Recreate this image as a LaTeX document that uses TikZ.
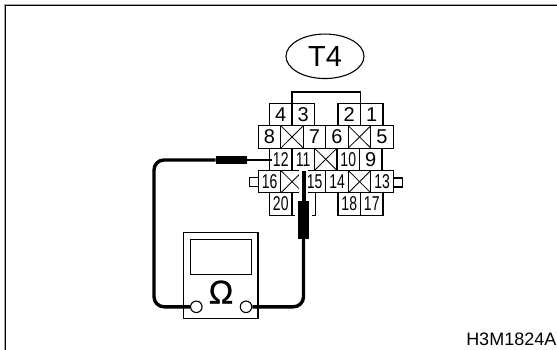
\documentclass[tikz,border=0pt]{standalone}
\usepackage{fontspec}
\setmainfont{Liberation Sans}
\newfontfamily\ohmfont[FakeBold=0.7]{Liberation Sans}
\usetikzlibrary{positioning, shapes.geometric}
\tikzset{
	pinbox/.style={draw, line width=1.1pt, minimum width=22.5pt, minimum height=22.4pt, inner sep=0pt, outer sep=0pt, font=\fontsize{20}{20}\selectfont},
	lead/.style={line width=3.4pt, black},
	probe/.style={draw=none, fill=black, inner sep=0pt, outer sep=0pt},
	jack/.style={draw, circle, line width=1.1pt, minimum size=11.5pt, inner sep=0pt, fill=white},
}
\newcommand{\narrow}[1]{\scalebox{0.7}[1]{#1}}
\begin{document}
\begin{tikzpicture}[x=1pt, y=-1pt]
	\useasboundingbox (0, 0) rectangle (557, 350);
	\draw[line width=1.2pt, black!35] (4.5, 350) -- (4.5, 4.5) -- (557, 4.5);
	\draw[line width=1.2pt] (5.5, 350) -- (5.5, 5.5) -- (557, 5.5);

	\node[draw, ellipse, line width=1.1pt, minimum width=78pt, minimum height=44.5pt, inner sep=0pt, font=\fontsize{29}{29}\selectfont] (t4) at (325, 56.3) {T4};

	% top row
	\node[pinbox, anchor=north west] (p4) at (269.5, 103.3) {4};
	\node[pinbox, right=0pt of p4] (p3) {3};
	\node[pinbox, anchor=north west] (p2) at (338, 103.3) {2};
	\node[pinbox, right=0pt of p2] (p1) {1};
	\draw[line width=1.1pt] (p3.north west) -- ++ (0, -11.3) -| (p1.north west);

	% second row
	\node[pinbox, anchor=north west] (p8) at (258.3, 125.7) {8};
	\node[pinbox, right=0pt of p8] (x1) {};
	\node[pinbox, right=0pt of x1] (p7) {7};
	\node[pinbox, right=0pt of p7] (p6) {6};
	\node[pinbox, right=0pt of p6] (x2) {};
	\node[pinbox, right=0pt of x2] (p5) {5};

	% third row
	\node[pinbox, anchor=north west] (p12) at (269.5, 148.1) {\narrow{12}};
	\node[pinbox, right=0pt of p12] (p11) {\narrow{11}};
	\node[pinbox, right=0pt of p11] (x3) {};
	\node[pinbox, right=0pt of x3] (p10) {\narrow{10}};
	\node[pinbox, right=0pt of p10] (p9) {9};

	% fourth row
	\node[pinbox, anchor=north west] (p16) at (258.3, 170.5) {\narrow{16}};
	\node[pinbox, right=0pt of p16] (x4) {};
	\node[pinbox, right=0pt of x4] (p15) {\narrow{15}};
	\node[pinbox, right=0pt of p15] (p14) {\narrow{14}};
	\node[pinbox, right=0pt of p14] (x5) {};
	\node[pinbox, right=0pt of x5] (p13) {\narrow{13}};

	% bottom row
	\node[pinbox, anchor=north west] (p20) at (269.5, 192.9) {\narrow{20}};
	\node[pinbox, anchor=north west] (p18) at (338, 192.9) {\narrow{18}};
	\node[pinbox, right=0pt of p18] (p17) {\narrow{17}};
	\draw[line width=1.1pt] (p20.south east) -- ++ (23.5, 0) -- ++ (0, -22.4);

	% crossed out cavities
	\foreach \c in {x1, x2, x3, x4, x5} {
		\draw[line width=0.8pt] (\c.north west) -- (\c.south east);
		\draw[line width=0.8pt] (\c.south west) -- (\c.north east);
	}

	% side tabs
	\draw[line width=1.1pt] (p13.east |- 0, 178) -- ++ (9, 0) -- ++ (0, 9) -- ++ (-9, 0);
	\draw[line width=1.1pt] (p16.west |- 0, 177.5) -- ++ (-9, 0) -- ++ (0, 9) -- ++ (9, 0);

	% meter
	\node[draw, line width=1.1pt, minimum width=74.3pt, minimum height=86pt, inner sep=0pt] (meter) at (220.8, 275.3) {};
	\node[draw, line width=1.1pt, minimum width=60.7pt, minimum height=35pt, inner sep=0pt] (screen) at (220.7, 256.8) {};
	\node[inner sep=0pt, font=\ohmfont\fontsize{33}{33}\selectfont] (ohm) at (221, 292) {Ω};
	\node[jack] (jackl) at (196.3, 306.8) {};
	\node[jack] (jackr) at (246, 306.8) {};

	% leads
	\node[probe, minimum width=31pt, minimum height=8.6pt] (probel) at (231.2, 160) {};
	\node[probe, minimum width=10.5pt, minimum height=38pt] (prober) at (303.5, 220) {};
	\coordinate (tipl) at ([xshift=2pt]p12.west);
	\coordinate (tipr) at (303.5, 170.7);
	\draw[line width=2.8pt] (tipl |- probel) -- (probel.east);
	\draw[lead, rounded corners=10pt] (probel.west) -- (154, 160) -- (154, 306.8) -- (jackl.west);
	% white gap round the right probe
	\draw[white, line width=9.3pt] (303.4, 170) -- (303.4, 196);
	\draw[white, line width=17pt] (303.4, 195) -- (303.4, 218);
	\draw[line width=4pt] (tipr) -- (prober.north);
	\node[probe, minimum width=10.5pt, minimum height=38pt] at (prober) {};
	\draw[lead, rounded corners=10pt] (prober.south) -- (303.5, 306.8) -- (jackr.east);

	\node[anchor=south east, inner sep=0pt, font=\fontsize{18}{18}\selectfont] (code) at (556.5, 345.5) {H3M1824A};
\end{tikzpicture}
\end{document}
